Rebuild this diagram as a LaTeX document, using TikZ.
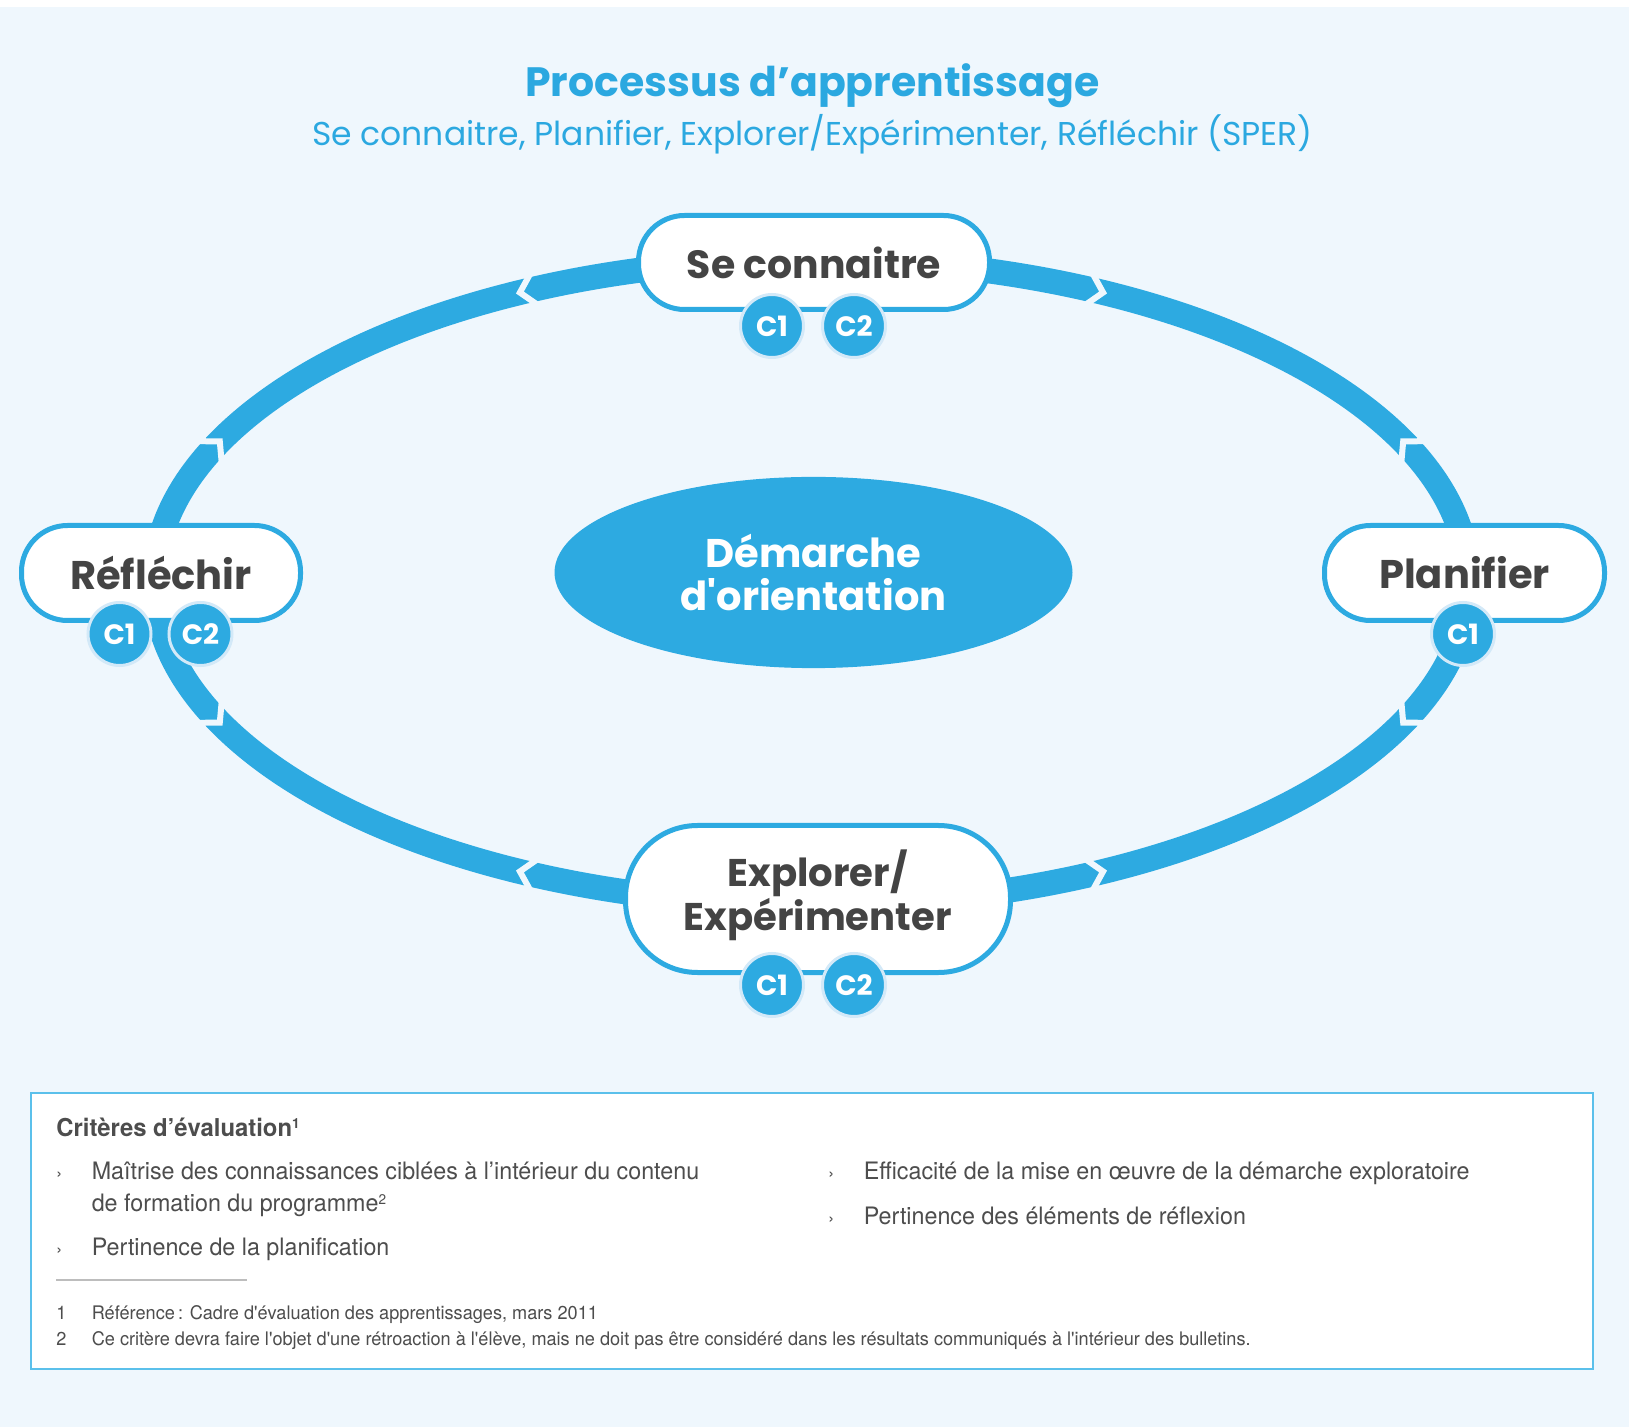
\documentclass[tikz,border=0pt]{standalone}
\usepackage{fontspec}
\usetikzlibrary{shapes.geometric}
\newfontfamily\pop[Ligatures=TeXOff]{Poppins}
\newfontfamily\helv[Ligatures=TeXOff,FakeStretch=0.97]{TeX Gyre Heros}
\newcommand\supnum[1]{\raisebox{3.6pt}{\fontsize{7}{8}\selectfont #1}}
\definecolor{bg}{HTML}{EFF7FD}
\definecolor{sblue}{HTML}{2DAAE1}
\definecolor{tblue}{HTML}{2BA8E0}
\definecolor{dtext}{HTML}{444444}
\definecolor{btext}{HTML}{4D4D4D}
\definecolor{ringc}{HTML}{D3E9F8}
\definecolor{boxline}{HTML}{5BC0EB}
\definecolor{sepc}{HTML}{BDBDBD}
\begin{document}
\begin{tikzpicture}[x=0.5pt,y=-0.5pt,
  pill/.style={draw=sblue, line width=2.5pt, fill=white, rounded corners=23pt,
    font=\pop\bfseries\fontsize{20}{21.5}\selectfont, text=dtext, align=center, inner sep=0pt},
  pilltxt/.style={anchor=base, inner sep=0pt, text=dtext, font=\pop\bfseries\fontsize{19.3}{21}\selectfont},
  badge/.style={circle, fill=sblue, draw=ringc, line width=1.5pt, minimum size=31.5pt,
    inner sep=0pt, text=white, font=\pop\bfseries\fontsize{14}{14}\selectfont},
  gapline/.style={draw=bg, line width=3pt},
  boxtxt/.style={anchor=base west, inner sep=0pt, text=btext, font=\helv\fontsize{12}{14}\selectfont},
  bul/.style={anchor=base west, inner sep=0pt, text=btext, font=\helv\fontsize{9}{10}\selectfont},
  fn/.style={anchor=base west, inner sep=0pt, text=btext, font=\helv\fontsize{9.35}{11}\selectfont}]
\useasboundingbox (0,0) rectangle (1629,1427);
\fill[bg] (0,7) rectangle (1629,1427);
% ring
\draw[sblue, line width=12.5pt] (811.5,582) ellipse [x radius=328.5pt, y radius=161.5pt];
\foreach \t/\s in {24.5/1,64.5/-1,115.5/1,155.5/-1,204.5/1,244.5/-1,295.5/1,335.5/-1}{
  \pgfmathsetmacro\px{811.5+657*cos(\t)}
  \pgfmathsetmacro\py{582+323*sin(\t)}
  \pgfmathsetmacro\tx{-6.57*sin(\t)*\s}
  \pgfmathsetmacro\ty{3.23*cos(\t)*\s}
  \pgfmathsetmacro\tl{veclen(\tx,\ty)}
  \pgfmathsetmacro\ux{\tx/\tl}
  \pgfmathsetmacro\uy{\ty/\tl}
  \draw[gapline] ({\px-\uy*20-\ux*9},{\py+\ux*20-\uy*9}) -- ({\px+\ux*9},{\py+\uy*9}) -- ({\px+\uy*20-\ux*9},{\py-\ux*20-\uy*9});
}
% title
\node[font=\pop\bfseries\fontsize{20.5}{25}\selectfont, text=tblue, anchor=base, inner sep=0pt] (title) at (812.5,96.6) {Processus d’apprentissage};
\node[font=\pop\fontsize{16.5}{19}\selectfont, text=tblue, anchor=base, inner sep=0pt] (sub) at (812.5,145.5) {Se connaitre, Planifier, Explorer/Expérimenter, Réfléchir (SPER)};
% centre
\node[ellipse, fill=sblue, minimum width=259pt, minimum height=95.6pt, inner sep=0pt, text=white,
  font=\pop\bfseries\fontsize{20}{21.8}\selectfont, align=center] (dem) at (813.5,572.5) {Démarche\\d'orientation};
% pills
\node[pill, minimum width=175.5pt, minimum height=47pt, font=\pop\bfseries\fontsize{19.7}{21.5}\selectfont] (se) at (814,262.5) {Se connaitre};
\node[pill, minimum width=139.5pt, minimum height=47.5pt] (re) at (161,573) {Réfléchir};
\node[pill, minimum width=140pt, minimum height=47.5pt] (pl) at (1464.5,573) {Planifier};
\node[pill, minimum width=192.5pt, minimum height=73.5pt, rounded corners=36pt] (ex) at (818,899) {};
\node[pilltxt] (ext1) at (817.7,886) {Explorer/};
\node[pilltxt] (ext2) at (817.7,930) {Expérimenter};
% badges
\node[badge] (se1) at (772,326) {C1};
\node[badge] (se2) at (854,326) {C2};
\node[badge] (re1) at (119.5,634) {C1};
\node[badge] (re2) at (200.5,634) {C2};
\node[badge] (pl1) at (1463,634) {C1};
\node[badge] (ex1) at (772,985) {C1};
\node[badge] (ex2) at (854,985) {C2};
% box
\node[draw=boxline, line width=1pt, fill=white, minimum width=781pt, minimum height=138pt, inner sep=0pt] (box) at (812,1231) {};
\node[boxtxt, font=\helv\bfseries\fontsize{12.3}{14}\selectfont] (head) at (56,1136) {Critères d’évaluation\supnum{1}};
\node[bul] (b1) at (56,1179.5) {›};
\node[boxtxt] (l1) at (91.4,1179.5) {Maîtrise des connaissances ciblées à l’intérieur du contenu};
\node[boxtxt] (l2) at (91.4,1211.5) {de formation du programme\supnum{2}};
\node[bul] (b2) at (56,1255) {›};
\node[boxtxt] (l3) at (91.4,1255) {Pertinence de la planification};
\node[bul] (b3) at (828,1179.5) {›};
\node[boxtxt] (r1) at (863.4,1179.5) {Efficacité de la mise en œuvre de la démarche exploratoire};
\node[bul] (b4) at (828,1224) {›};
\node[boxtxt] (r2) at (863.4,1224) {Pertinence des éléments de réflexion};
\coordinate (s1) at (56,1280);
\coordinate (s2) at (247,1280);
\draw[sepc, line width=0.6pt] (s1) -- (s2);
\node[fn] (n1) at (56,1319.5) {1};
\node[fn] (f1) at (91.4,1319.5) {Référence\,: Cadre d'évaluation des apprentissages, mars 2011};
\node[fn] (n2) at (56,1345.5) {2};
\node[fn] (f2) at (91.4,1345.5) {Ce critère devra faire l'objet d'une rétroaction à l'élève, mais ne doit pas être considéré dans les résultats communiqués à l'intérieur des bulletins.};
\end{tikzpicture}
\end{document}
